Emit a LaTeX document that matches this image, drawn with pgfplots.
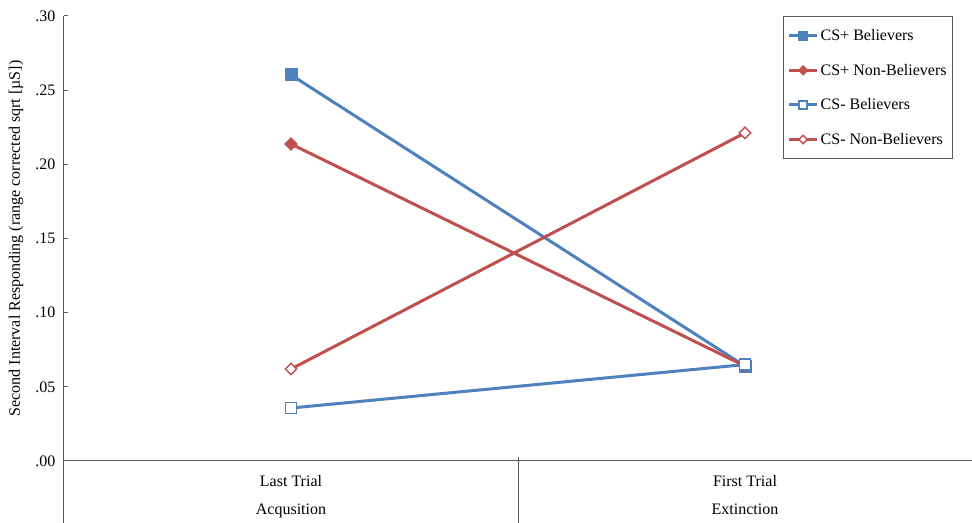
\documentclass[border=0pt]{standalone}
\usepackage{fontspec}
\setmainfont{Liberation Serif}
\usepackage{pgfplots}
\pgfplotsset{compat=1.18}
\definecolor{xblue}{RGB}{79,129,189}
\definecolor{xred}{RGB}{192,80,77}
\definecolor{axgray}{RGB}{90,90,90}
\begin{document}
\begin{tikzpicture}
\begin{axis}[
  scale only axis, width=908pt, height=445pt,
  xmin=-0.5, xmax=1.5, ymin=0, ymax=0.3,
  axis x line*=bottom, axis y line*=left,
  axis line style={axgray, line width=1pt, -},
  xtick=\empty,
  ytick={0,0.05,0.1,0.15,0.2,0.25,0.3},
  yticklabels={.00,.05,.10,.15,.20,.25,.30},
  tick align=inside, major tick length=4pt,
  tick style={axgray, line width=1pt},
  font=\fontsize{16}{19}\selectfont,
  /pgf/number format/assume math mode=true,
  yticklabel style={font=\fontsize{16}{19}\selectfont, xshift=-5pt},
  every axis y label/.style={at={(axis description cs:-0.0529,0.5)}, rotate=90, anchor=center},
  ylabel={\fontsize{16}{19}\selectfont Second Interval Responding (range corrected sqrt [µS])},
  legend cell align=left,
  legend style={at={(axis description cs:1,1)}, xshift=-19pt, anchor=north east,
    draw=axgray, line width=0.8pt, font=\fontsize{16}{19}\selectfont,
    row sep=18pt, inner xsep=4pt, inner ysep=11pt},
  legend image code/.code={\draw[mark repeat=2,mark phase=2,#1, every mark/.append style={scale=0.75}] plot coordinates {(0pt,0pt)(14pt,0pt)(28pt,0pt)};},
  clip=false,
]
\addplot[xblue, line width=3pt, mark=square*, mark size=6pt, mark options={fill=xblue, line width=1pt}]
  coordinates {(0,0.2603) (1,0.0640)};
\addlegendentry{CS+ Believers}
\addplot[xred, line width=3pt, mark=square*, mark size=4.3pt, mark options={fill=xred, line width=1pt, rotate=45}]
  coordinates {(0,0.2137) (1,0.0640)};
\addlegendentry{CS+ Non-Believers}
\addplot[xblue, line width=3pt, mark=square*, mark size=5.5pt, mark options={fill=white, line width=1.8pt}]
  coordinates {(0,0.0357) (1,0.0650)};
\addlegendentry{CS- Believers}
\addplot[xred, line width=3pt, mark=square*, mark size=4pt, mark options={fill=white, line width=1.4pt, rotate=45}]
  coordinates {(0,0.0620) (1,0.2212)};
\addlegendentry{CS- Non-Believers}
\draw[axgray, line width=1pt] (axis cs:-0.5,0) -- ([yshift=-62pt]axis cs:-0.5,0);
\draw[axgray, line width=1pt] ([yshift=4pt]axis cs:0.5,0) -- ([yshift=-62pt]axis cs:0.5,0);
\node[anchor=base] at ([yshift=-25.5pt]axis cs:0,0) {Last Trial};
\node[anchor=base] at ([yshift=-25.5pt]axis cs:1,0) {First Trial};
\node[anchor=base] at ([yshift=-54pt]axis cs:0,0) {Acqusition};
\node[anchor=base] at ([yshift=-54pt]axis cs:1,0) {Extinction};
\end{axis}
\pgfresetboundingbox
\path ([shift={(-64pt,-62pt)}]current axis.south west) rectangle ([shift={(0pt,16pt)}]current axis.north east);
\end{tikzpicture}
\end{document}
